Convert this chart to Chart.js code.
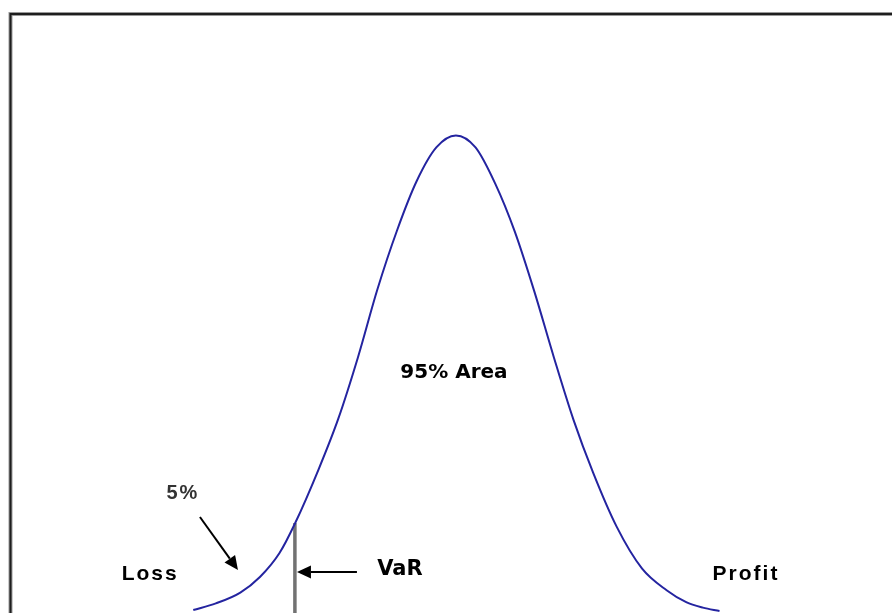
<!DOCTYPE html>
<html>
<head>
<meta charset="utf-8">
<script src="https://cdn.jsdelivr.net/npm/chart.js@4.4.1/dist/chart.umd.min.js"></script>
<style>
  html, body { margin: 0; padding: 0; background: #fff; }
  #wrap { width: 892px; height: 613px; position: relative; }
</style>
</head>
<body>
<div id="wrap"><canvas id="c"></canvas></div>
<script>
// x in standard deviations from the mean, y = probability density
const curveX = [-2.68, -2.45, -2.2, -2.0, -1.8, -1.64, -1.4, -1.2, -1.0, -0.8, -0.6, -0.4, -0.2, 0,
  0.2, 0.4, 0.6, 0.8, 1.0, 1.2, 1.4, 1.64, 1.9, 2.15, 2.35, 2.52, 2.69];
const curveY = [0.0025, 0.008, 0.017, 0.030, 0.050, 0.075, 0.120, 0.162, 0.213, 0.270, 0.319, 0.360, 0.388, 0.398,
  0.388, 0.358, 0.318, 0.268, 0.213, 0.161, 0.117, 0.072, 0.037, 0.019, 0.009, 0.0045, 0.0017];

const varX = -1.643;     // 5% VaR cut-off
const varY = 0.075;      // density at the cut-off

// text labels
const labelText = ['95% Area', 'Loss', 'Profit', '5%', 'VaR'];
const labelX = [-0.02, -3.12, 2.96, -2.786, -0.571];
const labelY = [0.200, 0.0325, 0.0325, 0.0992, 0.0358];

// arrows: from -> to
const arrowFromX = [-2.612, -1.010];
const arrowFromY = [0.080, 0.0342];
const arrowToX = [-2.224, -1.622];
const arrowToY = [0.0358, 0.0342];

const curvePts = curveX.map((x, i) => ({ x, y: curveY[i] }));

const frame = {
  id: 'frame',
  beforeDraw(chart) {
    const { ctx, chartArea } = chart;
    ctx.save();
    ctx.strokeStyle = '#999';
    ctx.lineWidth = 4;
    ctx.beginPath();
    ctx.moveTo(chartArea.left - 0.5, chart.height + 5);
    ctx.lineTo(chartArea.left - 0.5, chartArea.top);
    ctx.lineTo(chart.width + 5, chartArea.top);
    ctx.stroke();
    ctx.strokeStyle = '#1e1e1e';
    ctx.lineWidth = 2;
    ctx.stroke();
    ctx.restore();
  }
};

const notes = {
  id: 'notes',
  afterDatasetsDraw(chart) {
    const { ctx, scales: { x, y } } = chart;
    ctx.save();
    // arrows
    ctx.strokeStyle = '#000';
    ctx.fillStyle = '#000';
    arrowFromX.forEach((fx, i) => {
      const x0 = x.getPixelForValue(fx), y0 = y.getPixelForValue(arrowFromY[i]);
      const x1 = x.getPixelForValue(arrowToX[i]), y1 = y.getPixelForValue(arrowToY[i]);
      const a = Math.atan2(y1 - y0, x1 - x0);
      const len = 14, half = 6.5;
      const bx = x1 - len * Math.cos(a), by = y1 - len * Math.sin(a);
      ctx.lineWidth = 2;
      ctx.beginPath();
      ctx.moveTo(x0, y0);
      ctx.lineTo(bx, by);
      ctx.stroke();
      ctx.beginPath();
      ctx.moveTo(x1, y1);
      ctx.lineTo(bx + half * Math.sin(a), by - half * Math.cos(a));
      ctx.lineTo(bx - half * Math.sin(a), by + half * Math.cos(a));
      ctx.closePath();
      ctx.fill();
    });

    // labels
    const fonts = [
      ['bold 20px "DejaVu Sans"', '0px', '#000'],
      ['bold 21px "Liberation Sans", Arial', '2px', '#000'],
      ['bold 21px "Liberation Sans", Arial', '2px', '#000'],
      ['bold 20px "Liberation Sans", Arial', '2px', '#333'],
      ['bold 21px "DejaVu Sans"', '0px', '#000']
    ];
    ctx.textAlign = 'center';
    ctx.textBaseline = 'middle';
    labelText.forEach((t, i) => {
      ctx.font = fonts[i][0];
      ctx.letterSpacing = fonts[i][1];
      ctx.fillStyle = fonts[i][2];
      ctx.fillText(t, x.getPixelForValue(labelX[i]), y.getPixelForValue(labelY[i]));
    });
    ctx.restore();
  }
};

new Chart(document.getElementById('c'), {
  type: 'scatter',
  data: {
    datasets: [
      {
        data: curvePts,
        showLine: true,
        borderColor: '#2424a0',
        borderWidth: 2,
        pointRadius: 0,
        cubicInterpolationMode: 'monotone'
      },
      {
        data: [{ x: varX, y: varY }, { x: varX, y: -0.01 }],
        showLine: true,
        borderColor: '#727272',
        borderWidth: 3.5,
        pointRadius: 0
      }
    ]
  },
  options: {
    responsive: true,
    maintainAspectRatio: false,
    animation: false,
    layout: { padding: { left: 11, top: 14, right: 0, bottom: 0 } },
    plugins: { legend: { display: false }, tooltip: { enabled: false } },
    scales: {
      x: { type: 'linear', min: -4.54, max: 4.45, display: false },
      y: { min: 0, max: 0.4992, display: false }
    }
  },
  plugins: [frame, notes]
});
</script>
</body>
</html>
